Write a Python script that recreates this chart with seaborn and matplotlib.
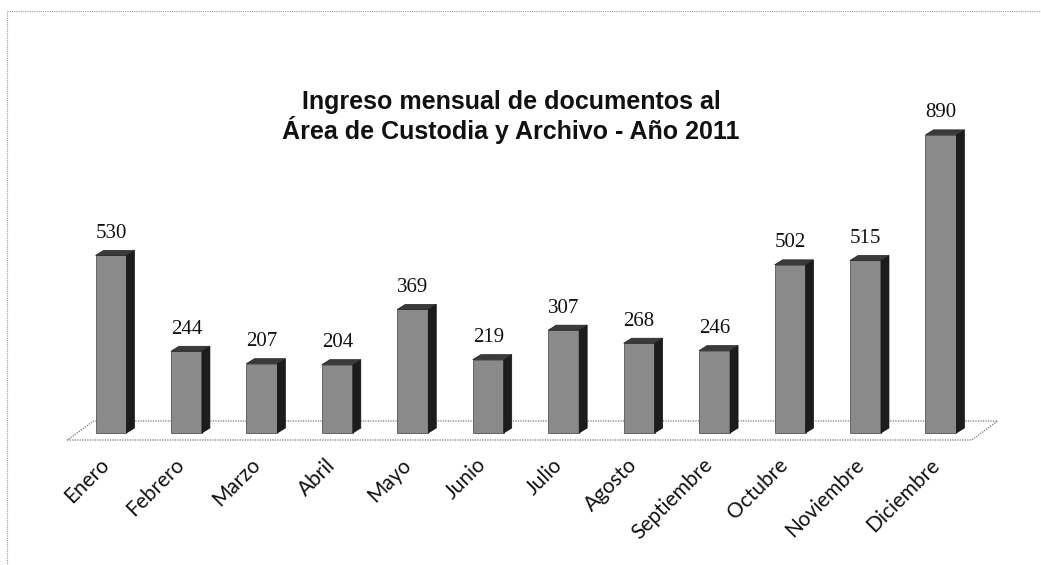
import matplotlib
matplotlib.use("Agg")
import matplotlib.pyplot as plt
import seaborn as sns
import pandas as pd
from matplotlib.patches import Polygon
from matplotlib.lines import Line2D
from matplotlib import transforms

# datos
meses = ["Enero", "Febrero", "Marzo", "Abril", "Mayo", "Junio", "Julio",
         "Agosto", "Septiembre", "Octubre", "Noviembre", "Diciembre"]
documentos = [530, 244, 207, 204, 369, 219, 307, 268, 246, 502, 515, 890]
titulo = "Ingreso mensual de documentos al\nÁrea de Custodia y Archivo - Año 2011"

W, H = 1041, 565
sns.set_style("white")
fig = plt.figure(figsize=(W / 100, H / 100), dpi=100)

# layout in pixels (from the reference)
px_cat = 75.45      # distance between bars
x0_px = 111         # centre of first bar
px_unit = 0.335     # pixels per document
base_px = 433       # zero line, measured from top
ax_l, ax_r, ax_t, ax_b = 20, 1030, 10, 452

ax = fig.add_axes([ax_l / W, 1 - ax_b / H, (ax_r - ax_l) / W, (ax_b - ax_t) / H])
df = pd.DataFrame({"mes": meses, "documentos": documentos})
sns.barplot(data=df, x="mes", y="documentos", ax=ax, color="#8a8a8a",
            width=0.41, edgecolor="#555555", linewidth=0.6, saturation=1,
            zorder=3)
ax.set_xlim((ax_l - x0_px) / px_cat, (ax_r - x0_px) / px_cat)
ax.set_ylim((base_px - ax_b) / px_unit, (base_px - ax_t) / px_unit)

# fake 3D: side and top faces built from each bar
dx = 8 / px_cat
dy = 5 / px_unit
bars = ax.containers[0]
for p in bars.patches:
    x, w, h = p.get_x(), p.get_width(), p.get_height()
    side = Polygon([(x + w, 0), (x + w + dx, dy), (x + w + dx, h + dy), (x + w, h)],
                   closed=True, facecolor="#1c1c1c", edgecolor="#111111",
                   linewidth=0.5, zorder=3)
    top = Polygon([(x, h), (x + w, h), (x + w + dx, h + dy), (x + dx, h + dy)],
                  closed=True, facecolor="#3a3a3a", edgecolor="#222222",
                  linewidth=0.5, zorder=3)
    ax.add_patch(side)
    ax.add_patch(top)

# floor
n = len(meses)
y_front = (base_px - 440) / px_unit
y_back = (base_px - 421) / px_unit
floor = Polygon([(-0.58, y_front), (n - 1 + 0.41, y_front),
                 (n - 1 + 0.75, y_back), (-0.23, y_back)],
                closed=True, facecolor="white", edgecolor="#777777",
                linewidth=0.9, linestyle=(0, (1, 1)), zorder=1)
ax.add_patch(floor)

# value labels
ax.bar_label(bars, labels=[str(v) for v in documentos], padding=9,
             fontsize=15, family="Liberation Serif", color="#111111")

# axes cosmetics
for s in ax.spines.values():
    s.set_visible(False)
ax.set_yticks([])
ax.set_xlabel("")
ax.set_ylabel("")
ax.tick_params(axis="x", length=0, pad=2)
shift = transforms.ScaledTranslation(-12 / 100, 0, fig.dpi_scale_trans)
for lbl in ax.get_xticklabels():
    lbl.set_rotation(45)
    lbl.set_ha("right")
    lbl.set_va("top")
    lbl.set_rotation_mode("anchor")
    lbl.set_fontsize(15)
    lbl.set_family("Lato")
    lbl.set_color("#111111")
    lbl.set_transform(lbl.get_transform() + shift)

# title
fig.text(511 / W, 1 - 117 / H, titulo, ha="center", va="center",
         fontsize=18, fontweight="bold", family="Liberation Sans",
         linespacing=1.05, color="#111111")

# chart border (top and left only visible in the scan)
fig.add_artist(Line2D([7 / W, 1], [1 - 11 / H, 1 - 11 / H], color="#999999",
                      linewidth=0.8, linestyle=(0, (1, 1))))
fig.add_artist(Line2D([7 / W, 7 / W], [0, 1 - 11 / H], color="#999999",
                      linewidth=0.8, linestyle=(0, (1, 1))))

fig.savefig("out.png", dpi=100)
